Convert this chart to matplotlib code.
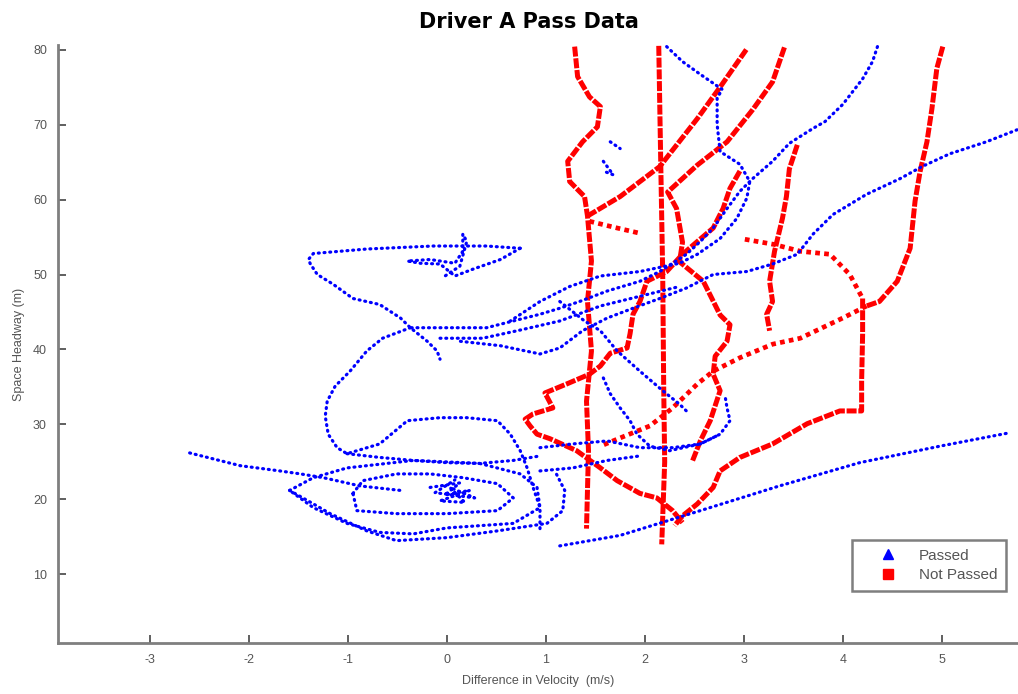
import matplotlib
matplotlib.use('Agg')
import matplotlib.pyplot as plt
from matplotlib.lines import Line2D

# Traces: (difference in velocity m/s, space headway m)
red_left = [(1.29, 80.4), (1.32, 76.4), (1.44, 73.7), (1.55, 72.4), (1.52, 69.7), (1.37, 67.7),
            (1.22, 65.1), (1.24, 62.4), (1.39, 60.4), (1.42, 57.8), (1.46, 51.8), (1.42, 46.4),
            (1.46, 39.8), (1.41, 33.1), (1.43, 26.5), (1.41, 16.1)]
red_vert = [(2.14, 80.5), (2.16, 65.0), (2.18, 50.0), (2.19, 35.0), (2.20, 25.0), (2.17, 14.0)]
red_diag = [(1.42, 57.8), (1.75, 60.4), (2.15, 64.4), (2.53, 70.8), (2.76, 75.0), (3.03, 80.1)]
red_mid = [(3.41, 80.3), (3.29, 75.7), (3.09, 72.0), (2.83, 67.7), (2.53, 64.6), (2.23, 61.0),
           (2.32, 58.8), (2.38, 54.3), (2.35, 51.7), (2.59, 49.1), (2.76, 44.6), (2.86, 43.3),
           (2.83, 41.1), (2.71, 39.1), (2.69, 36.7), (2.76, 34.5), (2.66, 30.5), (2.56, 27.8),
           (2.48, 25.1)]
red_snake = [(2.96, 63.8), (2.86, 61.5), (2.79, 58.8), (2.69, 56.2), (2.53, 54.4), (2.38, 52.7),
             (2.22, 50.4), (2.02, 49.1), (1.95, 46.4), (1.88, 44.7), (1.85, 42.1), (1.82, 40.2),
             (1.65, 39.5), (1.55, 37.8), (1.44, 36.7), (1.21, 35.4), (0.99, 34.2), (1.07, 32.2),
             (0.87, 31.4), (0.79, 30.7), (0.84, 29.8), (0.91, 28.7), (1.04, 28.1), (1.31, 26.5),
             (1.55, 24.2), (1.72, 22.5), (1.95, 20.8), (2.12, 20.2), (2.28, 18.5), (2.38, 16.9)]
red_right_top = [(5.01, 80.4), (4.95, 77.5), (4.90, 72.1), (4.85, 67.7), (4.78, 63.7), (4.73, 59.8),
                 (4.68, 53.5), (4.55, 49.1), (4.37, 46.4), (4.24, 45.8)]
red_right_low = [(4.24, 45.8), (4.00, 44.2), (3.57, 41.5), (3.29, 40.7), (2.96, 38.9), (2.69, 37.1),
                 (2.53, 35.4), (2.28, 32.2), (2.05, 29.8), (1.75, 28.2), (1.55, 27.1)]
red_hook_top = [(3.01, 54.7), (3.31, 54.0), (3.57, 53.1), (3.87, 52.7), (4.07, 50.0), (4.20, 46.8)]
red_hook = [(4.20, 46.8), (4.20, 42.1), (4.19, 35.8), (4.19, 31.8), (3.97, 31.8), (3.64, 30.1),
            (3.29, 27.4), (2.96, 25.6), (2.76, 23.8), (2.69, 21.6), (2.53, 19.4), (2.38, 17.8),
            (2.30, 16.5)]
red_short = [(3.54, 67.3), (3.46, 64.1), (3.43, 60.4), (3.39, 57.5), (3.31, 53.1), (3.26, 49.1),
             (3.29, 46.4), (3.23, 44.7), (3.26, 42.5)]
red_stub = [(1.44, 57.1), (1.72, 56.2), (1.95, 55.5)]

blue_top = [(0.74, 53.5), (0.40, 53.8), (-0.14, 53.8), (-0.81, 53.4), (-1.35, 52.8), (-1.40, 52.0),
            (-1.38, 51.4), (-1.31, 50.0), (-1.15, 48.7), (-0.95, 46.8), (-0.68, 46.0), (-0.47, 44.2),
            (-0.37, 42.9), (-0.20, 41.1), (-0.10, 39.8), (-0.07, 38.7)]
blue_knot = [(0.74, 53.5), (0.54, 52.0), (0.26, 50.7), (0.08, 49.8), (-0.07, 51.4), (-0.27, 51.5),
             (-0.40, 51.8), (-0.17, 52.0), (0.08, 51.5), (0.16, 53.1), (0.16, 55.4), (0.20, 54.4),
             (0.13, 51.1), (-0.02, 49.8)]
blue_loop = [(-0.37, 42.9), (-0.65, 41.5), (-0.81, 39.8), (-0.98, 37.1), (-1.13, 35.1), (-1.21, 33.1),
             (-1.23, 31.1), (-1.20, 28.7), (-1.11, 26.9), (-1.01, 26.1), (-0.68, 27.4), (-0.40, 30.5),
             (-0.07, 30.9), (0.20, 30.9), (0.51, 30.5), (0.64, 28.7), (0.74, 26.5), (0.81, 24.2),
             (0.87, 21.6), (0.94, 18.9), (0.94, 15.8)]
blue_arc = [(-1.01, 26.1), (-0.68, 25.6), (-0.34, 25.2), (0.00, 24.9), (0.33, 24.8), (0.67, 25.2),
            (0.94, 25.8)]
blue_outer = [(-1.59, 21.2), (-1.35, 22.9), (-1.01, 24.2), (-0.34, 25.2), (0.33, 24.8), (0.74, 23.4),
              (0.91, 21.6), (0.94, 18.9), (0.67, 16.8), (0.00, 16.2), (-0.34, 15.4), (-0.68, 15.6),
              (-1.01, 16.8), (-1.35, 18.9), (-1.59, 21.2)]
blue_lower = [(-1.59, 21.2), (-1.35, 19.4), (-1.18, 18.1), (-0.81, 15.8), (-0.51, 14.5), (0.00, 14.9),
              (0.51, 15.8), (1.01, 16.8), (1.17, 18.5), (1.19, 21.2), (1.09, 23.8)]
blue_inner = [(-0.95, 20.8), (-0.85, 22.5), (-0.51, 23.4), (-0.17, 23.4), (0.16, 22.9), (0.51, 22.1),
              (0.67, 20.2), (0.51, 18.5), (0.00, 18.1), (-0.51, 18.1), (-0.91, 18.5), (-0.95, 20.8)]
blue_core = [(-0.17, 21.6), (0.13, 22.2), (-0.02, 20.6), (0.23, 21.2), (-0.07, 19.8), (0.18, 19.6),
             (0.03, 21.6), (0.28, 20.2), (-0.12, 20.9), (0.08, 22.6)]
blue_tail = [(-2.60, 26.2), (-2.09, 24.5), (-1.69, 23.8), (-1.48, 23.4), (-1.25, 22.9), (-0.88, 21.8),
             (-0.47, 21.2)]
blue_low_right = [(1.14, 13.8), (1.75, 15.2), (2.56, 18.5), (3.36, 21.8), (4.17, 24.9), (4.98, 27.1),
                  (5.69, 28.9)]
blue_long = [(5.76, 69.3), (5.45, 67.7), (5.08, 66.1), (4.80, 64.4), (4.58, 62.8), (4.24, 60.7),
             (3.90, 58.0), (3.70, 55.4), (3.54, 52.7), (3.29, 51.4), (3.03, 50.4), (2.69, 50.0),
             (2.42, 48.2), (2.15, 46.8), (1.88, 45.5), (1.62, 44.2), (1.37, 42.5), (1.14, 40.2),
             (0.94, 39.4), (0.54, 40.5), (0.13, 41.1)]
blue_curve = [(4.35, 80.4), (4.30, 78.4), (4.20, 76.1), (4.10, 74.4), (4.00, 72.7), (3.82, 70.4),
              (3.70, 69.5), (3.46, 67.5), (3.29, 65.1), (3.09, 62.8), (2.96, 61.1), (2.83, 58.8),
              (2.69, 56.2), (2.56, 54.4), (2.42, 52.7), (2.15, 50.4), (1.95, 49.1), (1.62, 47.8),
              (1.34, 46.4), (1.14, 45.5), (0.94, 44.7), (0.40, 42.9), (-0.04, 42.9), (-0.37, 42.9)]
blue_drop = [(2.22, 80.4), (2.38, 78.4), (2.56, 76.7), (2.78, 74.7), (2.73, 73.5), (2.73, 70.0),
             (2.76, 66.4), (2.96, 64.7), (3.06, 62.4), (3.03, 60.2), (2.93, 57.5), (2.76, 54.8),
             (2.53, 52.7), (2.35, 51.5), (1.95, 50.4), (1.55, 49.8), (1.24, 48.4), (0.94, 46.4),
             (0.64, 43.8)]
blue_cross = [(1.14, 46.4), (1.39, 43.8), (1.55, 42.5), (1.72, 39.8), (1.95, 37.1), (2.18, 34.5),
              (2.35, 32.7), (2.45, 31.4)]
blue_hoop = [(1.58, 36.2), (1.65, 34.1), (1.75, 32.2), (1.85, 30.5), (1.92, 28.7), (2.05, 27.1),
             (2.25, 26.5), (2.56, 27.4), (2.76, 28.7), (2.86, 30.5), (2.83, 32.2), (2.81, 33.8)]
blue_flat = [(0.94, 26.9), (1.27, 27.4), (1.62, 27.8), (1.95, 26.9), (2.28, 26.9), (2.56, 27.4),
             (2.76, 28.7)]
blue_flat2 = [(0.94, 23.8), (1.27, 24.2), (1.62, 25.2), (1.95, 25.8)]
blue_mid = [(-0.07, 41.5), (0.36, 41.5), (0.71, 42.5), (1.14, 43.8), (1.55, 45.8), (1.95, 47.1),
            (2.35, 48.4)]
blue_bits = [(1.65, 67.7), (1.75, 66.8)]
blue_bits2 = [(1.58, 65.1), (1.68, 63.3), (1.60, 63.7)]

red_dense = [red_left, red_vert, red_diag, red_mid, red_snake, red_right_top, red_hook, red_short]
red_sparse = [red_right_low, red_hook_top, red_stub]
blue_tracks = [blue_top, blue_knot, blue_loop, blue_arc, blue_outer, blue_lower, blue_inner, blue_core,
               blue_tail, blue_low_right, blue_long, blue_curve, blue_drop, blue_cross, blue_hoop,
               blue_flat, blue_flat2, blue_mid, blue_bits, blue_bits2]

x_ticks = [-3, -2, -1, 0, 1, 2, 3, 4, 5]
y_ticks = [10, 20, 30, 40, 50, 60, 70, 80]

GREY = '#7f7f7f'
TXT = '#555555'


def xy(track):
    return [p[0] for p in track], [p[1] for p in track]


fig = plt.figure(figsize=(10.18, 6.94), dpi=100)
ax = fig.add_axes([0.057, 0.073, 0.943, 0.862])

for tr in red_dense:
    xs, ys = xy(tr)
    ax.plot(xs, ys, color='#ff0000', lw=3.6, linestyle=(0, (2.0, 0.35)),
            dash_capstyle='butt', solid_joinstyle='miter')
for tr in red_sparse:
    xs, ys = xy(tr)
    ax.plot(xs, ys, color='#ff0000', lw=3.4, linestyle=(0, (1.0, 0.9)), dash_capstyle='butt')

for tr in blue_tracks:
    xs, ys = xy(tr)
    ax.plot(xs, ys, color='#0000ff', lw=2.3, linestyle=(0, (0.3, 1.5)), dash_capstyle='round')

ax.set_xlim(-3.93, 5.77)
ax.set_ylim(0.8, 80.6)
ax.set_xticks(x_ticks)
ax.set_yticks(y_ticks)
ax.set_xticklabels([str(t) for t in x_ticks])
ax.set_yticklabels([str(t) for t in y_ticks])

for side in ['top', 'right']:
    ax.spines[side].set_visible(False)
for side in ['left', 'bottom']:
    ax.spines[side].set_color(GREY)
    ax.spines[side].set_linewidth(2)

ax.tick_params(direction='in', length=6, width=1.2, color='#444444',
               labelcolor=TXT, labelsize=9, pad=8)
for lab in ax.get_xticklabels() + ax.get_yticklabels():
    lab.set_family('Liberation Sans')

ax.set_xlabel('Difference in Velocity  (m/s)', fontsize=9, color=TXT, family='Liberation Sans', labelpad=6)
ax.set_ylabel('Space Headway (m)', fontsize=9, color=TXT, family='Liberation Sans', labelpad=6)
fig.text(0.52, 0.968, 'Driver A Pass Data', ha='center', va='center', fontsize=15, fontweight='bold',
         family='DejaVu Sans')

handles = [Line2D([], [], ls='none', marker='^', color='#0000ff', markersize=7),
           Line2D([], [], ls='none', marker='s', color='#ff0000', markersize=7)]
leg = ax.legend(handles, ['Passed', 'Not Passed'], loc='lower right', bbox_to_anchor=(0.988, 0.087),
                fancybox=False, framealpha=1, edgecolor=GREY, handlelength=3.6, handletextpad=0.2,
                borderpad=0.6, labelspacing=0.35, borderaxespad=0,
                prop={'family': 'Liberation Sans', 'size': 11})
leg.get_frame().set_linewidth(1.8)
for t in leg.get_texts():
    t.set_color(TXT)

fig.savefig('out.png', dpi=100)
